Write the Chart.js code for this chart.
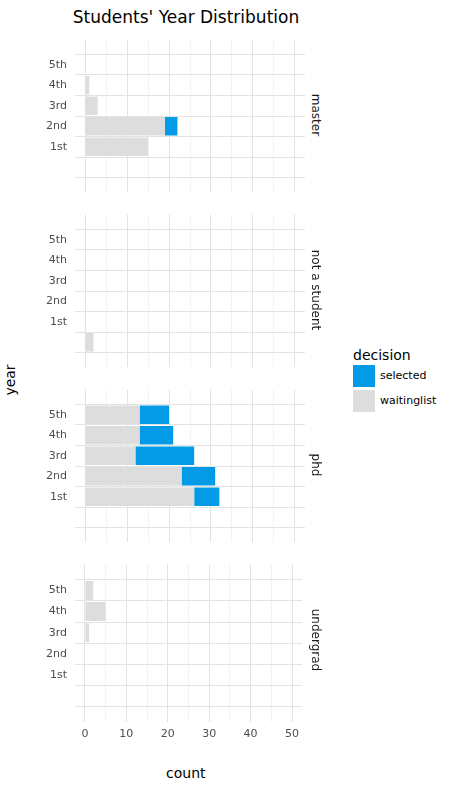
<!DOCTYPE html>
<html>
<head>
<meta charset="utf-8">
<script src="https://cdn.jsdelivr.net/npm/chart.js@4"></script>
<style>
  body { margin: 0; width: 469px; height: 793px; background: #fff; font-family: "DejaVu Sans", sans-serif; position: relative; }
  .abs { position: absolute; }
  .strip { position: absolute; font-size: 12px; color: #1a1a1a; transform: rotate(90deg); transform-origin: center; white-space: nowrap; }
</style>
</head>
<body>
<div class="abs" style="left:0;width:372px;top:7px;text-align:center;font-size:17px;color:#000">Students' Year Distribution</div>
<div class="abs" style="left:-6px;top:372px;font-size:14px;transform:rotate(-90deg)">year</div>
<div class="abs" style="left:166px;top:765px;font-size:14px">count</div>

<div class="abs" style="left:353px;top:347px;font-size:14px">decision</div>
<div class="abs" style="left:353px;top:365px;width:22px;height:22px;background:#039be5"></div>
<div class="abs" style="left:380px;top:369px;font-size:11px">selected</div>
<div class="abs" style="left:353px;top:390px;width:22px;height:22px;background:#dddddd"></div>
<div class="abs" style="left:380px;top:394px;font-size:11px">waitinglist</div>

<script>
const years = ["", "1st", "2nd", "3rd", "4th", "5th"];
const facets = ["master", "not a student", "phd", "undergrad"];
// values per year index: blank, 1st, 2nd, 3rd, 4th, 5th
const waitinglist = {
  "master":        [0, 15, 19, 3, 1, 0],
  "not a student": [2, 0, 0, 0, 0, 0],
  "phd":           [0, 26, 23, 12, 13, 13],
  "undergrad":     [0, 0, 0, 1, 5, 2]
};
const selected = {
  "master":        [0, 0, 3, 0, 0, 0],
  "not a student": [0, 0, 0, 0, 0, 0],
  "phd":           [0, 6, 8, 14, 8, 7],
  "undergrad":     [0, 0, 0, 0, 0, 0]
};
const xTicks = [0, 10, 20, 30, 40, 50];

const panelTop = [35, 210, 385, 560];
const panelH = 162;
const pad = 10;

facets.forEach((facet, i) => {
  const last = i === facets.length - 1;
  const h = panelH + pad + (last ? 26 : pad);
  const canvas = document.createElement("canvas");
  canvas.width = 280;
  canvas.height = h;
  canvas.className = "abs";
  canvas.style.cssText = `left:25px;top:${panelTop[i] - pad}px;width:280px;height:${h}px`;
  document.body.appendChild(canvas);

  const strip = document.createElement("div");
  strip.className = "strip";
  strip.textContent = facet;
  strip.style.left = (316 - 50) + "px";
  strip.style.width = "100px";
  strip.style.textAlign = "center";
  strip.style.top = (panelTop[i] + panelH / 2 - 8) + "px";
  document.body.appendChild(strip);

  const toPts = arr => arr.map((v, k) => ({ x: v, y: k }));

  new Chart(canvas, {
    type: "bar",
    data: {
      datasets: [
        { label: "waitinglist", data: toPts(waitinglist[facet]), backgroundColor: "#dddddd", borderWidth: 0 },
        { label: "selected", data: toPts(selected[facet]), backgroundColor: "#039be5", borderWidth: 0 }
      ]
    },
    options: {
      indexAxis: "y",
      responsive: false,
      animation: false,
      layout: { padding: { top: pad, bottom: last ? 0 : pad, left: 0, right: 0 } },
      barPercentage: 0.9,
      categoryPercentage: 1,
      plugins: { legend: { display: false }, tooltip: { enabled: false } },
      scales: {
        x: {
          type: "linear", stacked: true, min: -2.4, max: 52.4,
          border: { display: false },
          grid: {
            drawTicks: false,
            color: ctx => (ctx.tick && ctx.tick.value % 10 === 0) ? "#e3e3e3" : "#f2f2f2"
          },
          afterBuildTicks: axis => {
            axis.ticks = [];
            for (let v = 0; v <= 50; v += 5) axis.ticks.push({ value: v });
          },
          ticks: {
            display: last, padding: 6, color: "#4d4d4d", autoSkip: false, maxRotation: 0,
            font: { size: 11, family: "DejaVu Sans" },
            callback: v => xTicks.includes(v) ? String(v) : ""
          },
          afterFit: axis => { axis.height = last ? 26 : 0; }
        },
        y: {
          type: "linear", stacked: true, min: -0.6, max: 5.6,
          border: { display: false },
          grid: { drawTicks: false, color: "#e3e3e3" },
          afterBuildTicks: axis => {
            axis.ticks = years.map((_, k) => ({ value: k }));
          },
          ticks: {
            color: "#4d4d4d", padding: 8, autoSkip: false,
            font: { size: 11, family: "DejaVu Sans" },
            callback: v => years[v]
          },
          afterFit: axis => { axis.width = 50; }
        }
      }
    }
  });
});
</script>
</body>
</html>
